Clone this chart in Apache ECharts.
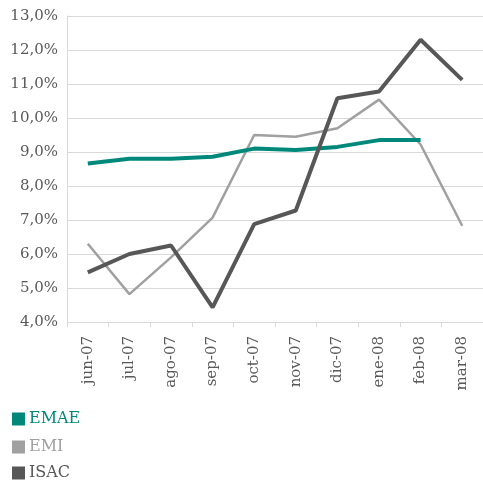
<!DOCTYPE html>
<html>
<head>
<meta charset="utf-8">
<script src="https://cdn.jsdelivr.net/npm/echarts@6/dist/echarts.min.js"></script>
<style>
  html, body { margin: 0; padding: 0; background: #fff; }
  #chart { width: 483px; height: 482px; }
</style>
</head>
<body>
<div id="chart"></div>
<script>
// meses
var months = ['jun-07', 'jul-07', 'ago-07', 'sep-07', 'oct-07', 'nov-07', 'dic-07', 'ene-08', 'feb-08', 'mar-08'];
// variación (%)
var emae = [8.66, 8.8, 8.8, 8.86, 9.1, 9.06, 9.15, 9.35, 9.35, null];
var emi = [6.3, 4.82, 5.9, 7.07, 9.5, 9.45, 9.7, 10.54, 9.22, 6.83];
var isac = [5.46, 6.0, 6.25, 4.43, 6.88, 7.28, 10.58, 10.78, 12.3, 11.12];
var yTicks = [4, 5, 6, 7, 8, 9, 10, 11, 12, 13];
var names = ['EMAE', 'EMI', 'ISAC'];

var font = 'DejaVu Serif';
var colors = ['#00897b', '#a0a0a0', '#575757'];
var legendTops = [411, 439, 465];

// una leyenda por serie, apiladas a la izquierda
var legends = names.map(function (n, i) {
  return {
    left: 12,
    top: legendTops[i],
    icon: 'rect',
    itemWidth: 13,
    itemHeight: 13,
    selectedMode: false,
    padding: 0,
    textStyle: { fontFamily: font, fontSize: 16, color: colors[i], padding: [0, 0, 0, -1] },
    data: [n]
  };
});

var chart = echarts.init(document.getElementById('chart'));
var option = {
  animation: false,
  color: colors,
  grid: {
    left: 67,
    top: 16,
    width: 420,
    height: 306,
    containLabel: false
  },
  legend: legends,
  xAxis: {
    type: 'category',
    data: months,
    boundaryGap: true,
    axisLine: { lineStyle: { color: '#d9d9d9', width: 1 } },
    axisTick: { show: true, length: 5, lineStyle: { color: '#d9d9d9' } },
    axisLabel: {
      rotate: 90,
      margin: 14,
      color: '#595959',
      fontFamily: font,
      fontSize: 15
    }
  },
  yAxis: {
    type: 'value',
    min: yTicks[0],
    max: yTicks[yTicks.length - 1],
    interval: 1,
    axisLine: { show: true, lineStyle: { color: '#d9d9d9', width: 1 } },
    axisTick: { show: false },
    splitLine: { lineStyle: { color: '#d9d9d9', width: 1 } },
    axisLabel: {
      margin: 9,
      color: '#595959',
      fontFamily: font,
      fontSize: 15,
      formatter: function (v) { return v.toFixed(1).replace('.', ',') + '%'; }
    }
  },
  series: [
    {
      name: 'EMAE', type: 'line', data: emae, showSymbol: false,
      lineStyle: { width: 4, color: colors[0] }, z: 3
    },
    {
      name: 'EMI', type: 'line', data: emi, showSymbol: false,
      lineStyle: { width: 2.5, color: colors[1] }, z: 2
    },
    {
      name: 'ISAC', type: 'line', data: isac, showSymbol: false,
      lineStyle: { width: 4, color: colors[2] }, z: 4
    }
  ]
};
chart.setOption(option);
</script>
</body>
</html>
